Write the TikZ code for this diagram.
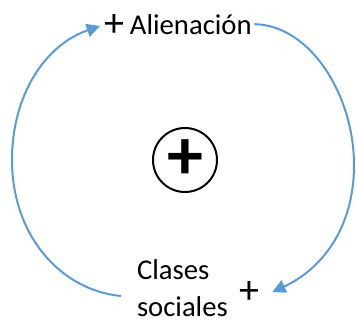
\documentclass[tikz,border=0pt]{standalone}
\usepackage{fontspec}
\setmainfont{Carlito}
\usepackage{tikz}
\usetikzlibrary{arrows.meta}
\definecolor{loopBlue}{RGB}{91,155,213}

\begin{document}
\begin{tikzpicture}[x=0.75pt, y=-0.75pt]%
  \tikzset{loop arrow/.style={draw, loopBlue, line width=1.5pt, -{Triangle[length=10pt,width=10pt]}}}
  \tikzstyle{every node}=[inner sep=0pt, outer sep=0pt, font=\fontsize{21.5}{27.75}\selectfont]
  \tikzstyle{polarity}=[font=\fontsize{30}{30}\selectfont]

  \useasboundingbox (0,0) rectangle (356,322);
  \node[anchor=base west, inner xsep=2pt] (alien) at (127.3,34) {Alienación};
  \node[polarity, inner xsep=3pt] (alienplus) at (114,26) {+};
  \node[anchor=west, align=left, inner xsep=12pt] (clases) at (121,288.5) {Clases\\sociales};
  \node[polarity, inner xsep=10pt] (clasesplus) at (249,292) {+};
  \node[circle, draw, line width=1.5pt, minimum size=48pt] (loop) at (185,160) {};
  \node[font=\fontsize{54}{54}\selectfont\bfseries] (looppos) at (loop) {+};

  \coordinate (leftmost) at (12,160);
  \coordinate (rightmost) at (354,165);

  \path[loop arrow] (clases.187) .. controls (60,290) and (12,235) .. (leftmost)
    .. controls (12,95) and (45,45) .. (alienplus.west);
  \path[loop arrow] (alien.east) .. controls (310,25) and (354,95) .. (rightmost)
    .. controls (354,230) and (320,270) .. (clasesplus.east);
\end{tikzpicture}
\end{document}
